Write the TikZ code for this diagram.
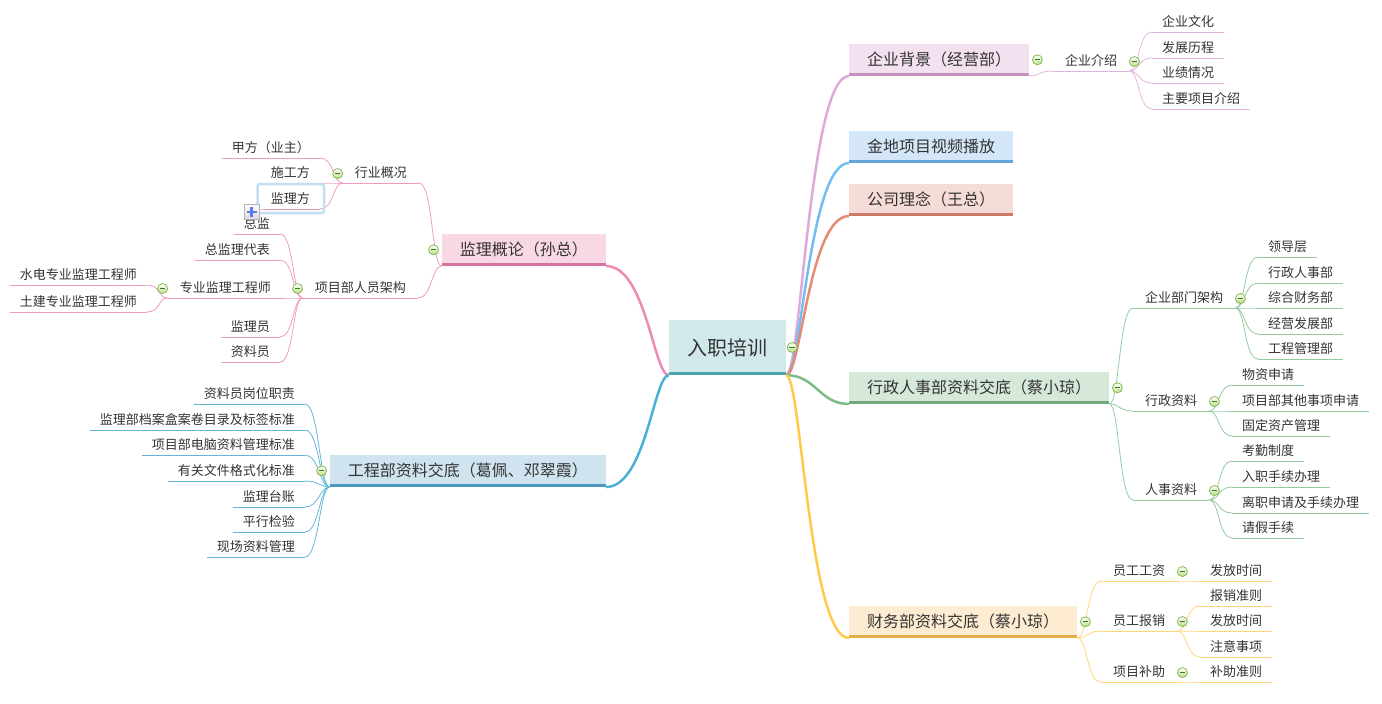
\documentclass[tikz,border=0pt]{standalone}
\usepackage{fontspec}
\setmainfont{Noto Sans CJK SC}
\usepackage{tikz}

\definecolor{ink}{HTML}{333333}
\definecolor{rootfill}{HTML}{D1E9EB}
\definecolor{rootbar}{HTML}{48A6AA}
\definecolor{bgfill}{HTML}{F3E1F0}
\definecolor{bgbar}{HTML}{C392BF}
\definecolor{bgmain}{HTML}{DEAADB}
\definecolor{bgline}{HTML}{E4B4DF}
\definecolor{jdfill}{HTML}{D4E7F8}
\definecolor{jdbar}{HTML}{62A5D9}
\definecolor{jdmain}{HTML}{74BDF0}
\definecolor{lnfill}{HTML}{F6DCD6}
\definecolor{lnbar}{HTML}{CB7B68}
\definecolor{lnmain}{HTML}{E48C73}
\definecolor{xzfill}{HTML}{D5E8D9}
\definecolor{xzbar}{HTML}{6FA97C}
\definecolor{xzmain}{HTML}{7DBB8A}
\definecolor{xzline}{HTML}{94CAA1}
\definecolor{cwfill}{HTML}{FDECD1}
\definecolor{cwbar}{HTML}{E2AE45}
\definecolor{cwmain}{HTML}{FFC94A}
\definecolor{cwline}{HTML}{FFD67A}
\definecolor{jlfill}{HTML}{F8D8E5}
\definecolor{jlbar}{HTML}{D4739D}
\definecolor{jlmain}{HTML}{EE8AB3}
\definecolor{jlline}{HTML}{F19BBF}
\definecolor{gcfill}{HTML}{D0E4F0}
\definecolor{gcbar}{HTML}{4D99BE}
\definecolor{gcmain}{HTML}{4AB0D6}
\definecolor{gcline}{HTML}{63B7D9}
\definecolor{foldedge}{HTML}{7CB342}
\definecolor{foldfill}{HTML}{B9DE8C}
\definecolor{foldmark}{HTML}{3A7A20}
\definecolor{selblue}{HTML}{C5DCF5}
\definecolor{plusblue}{HTML}{5B7BEA}

\newcommand\rootfont{\fontsize{20pt}{22pt}\selectfont}
\newcommand\topicfont{\fontsize{16pt}{18pt}\selectfont}
\newcommand\leaffont{\fontsize{13pt}{15pt}\selectfont}

\tikzset{
  root/.style={fill=rootfill, minimum width=117pt, minimum height=55pt, inner sep=0pt, font=\rootfont, text=ink},
  topic/.style={fill=#1, minimum width=163pt, minimum height=32pt, inner xsep=18pt, inner ysep=0pt, font=\topicfont, text=ink},
  sub/.style={inner xsep=12pt, inner ysep=3pt, text height=10pt, text depth=2.5pt, font=\leaffont, text=ink,
    append after command={(\tikzlastnode.south west) edge[draw=#1, line width=0.8pt] (\tikzlastnode.south east)}},
  leaf/.style={sub=#1, inner xsep=10pt},
  fold/.style={circle, draw=foldedge, line width=0.7pt, inner sep=0pt, minimum size=10pt, top color=white, bottom color=foldfill,
    path picture={\draw[foldmark, line width=1.1pt] ([xshift=-2.8pt]path picture bounding box.center) -- ([xshift=2.8pt]path picture bounding box.center);}},
  plusbox/.style={draw=gray!60, top color=white, bottom color=gray!30, minimum size=15pt, inner sep=0pt,
    path picture={\draw[plusblue, line width=2.5pt] ([xshift=-5pt]path picture bounding box.center) -- ([xshift=5pt]path picture bounding box.center)
      ([yshift=-5pt]path picture bounding box.center) -- ([yshift=5pt]path picture bounding box.center);}},
  rlink/.style={to path={.. controls +(10,0) and +(-14,0) .. (\tikztotarget)}},
  llink/.style={to path={.. controls +(-10,0) and +(14,0) .. (\tikztotarget)}},
  thin/.style={draw=#1, line width=0.8pt},
  main/.style={draw=#1, line width=2.5pt},
}

\begin{document}
\begin{tikzpicture}[x=1pt,y=-1pt]
        \useasboundingbox (0,0) rectangle (1382,704);

        % Root and main topics
        \node[root] (root) at (727.5,347.5) {入职培训};
        \node[topic=bgfill, anchor=south west] (bg) at (849,76) {企业背景（经营部）};
        \node[topic=jdfill, anchor=south west] (jd) at (849,163) {金地项目视频播放};
        \node[topic=lnfill, text width=128pt, align=left, anchor=south west] (ln) at (849,216) {公司理念（王总）};
        \node[topic=xzfill, anchor=south west] (xz) at (849,404) {行政人事部资料交底（蔡小琼）};
        \node[topic=cwfill, anchor=south west] (cw) at (849,638) {财务部资料交底（蔡小琼）};
        \node[topic=jlfill, text width=128pt, align=left, anchor=south east] (jl) at (606,266) {监理概论（孙总）};
        \node[topic=gcfill, anchor=south east] (gc) at (606,487) {工程部资料交底（葛佩、邓翠霞）};

        \draw[main=bgmain] (root.south east) .. controls +(15,0) and +(-40,0) .. (bg.south west);
        \draw[main=jdmain] (root.south east) .. controls +(15,0) and +(-40,0) .. (jd.south west);
        \draw[main=lnmain] (root.south east) .. controls +(15,0) and +(-40,0) .. (ln.south west);
        \draw[main=xzmain] (root.south east) .. controls +(30,0) and +(-30,0) .. (xz.south west);
        \draw[main=cwmain] (root.south east) .. controls +(15,0) and +(-40,0) .. (cw.south west);
        \draw[main=jlmain] (root.south west) .. controls +(-15,0) and +(40,0) .. (jl.south east);
        \draw[main=gcmain] (root.south west) .. controls +(-15,0) and +(40,0) .. (gc.south east);

        % 企业背景
        \node[sub=bgline, anchor=south west] (qyjs) at (1053,71) {企业介绍};
        \node[leaf=bgline, anchor=south west] (qywh) at (1152,32) {企业文化};
        \node[leaf=bgline, anchor=south west] (fzlc) at (1152,58) {发展历程};
        \node[leaf=bgline, anchor=south west] (yjqk) at (1152,83) {业绩情况};
        \node[leaf=bgline, anchor=south west] (zyxm) at (1152,109) {主要项目介绍};
        \draw[thin=bgline] (bg.south east) to[rlink] (qyjs.south west);
        \foreach \n in {qywh,fzlc,yjqk,zyxm}
            \draw[thin=bgline] (qyjs.south east) to[rlink] (\n.south west);

        % 行政人事部
        \node[sub=xzline, anchor=south west] (bmjg) at (1133,308) {企业部门架构};
        \node[sub=xzline, anchor=south west] (xzzl) at (1133,411) {行政资料};
        \node[sub=xzline, anchor=south west] (rszl) at (1133,500) {人事资料};
        \node[leaf=xzline, anchor=south west] (ldc) at (1258,257) {领导层};
        \node[leaf=xzline, anchor=south west] (xzrs) at (1258,283) {行政人事部};
        \node[leaf=xzline, anchor=south west] (zhcw) at (1258,308) {综合财务部};
        \node[leaf=xzline, anchor=south west] (jyfz) at (1258,334) {经营发展部};
        \node[leaf=xzline, anchor=south west] (gcgl) at (1258,359) {工程管理部};
        \node[leaf=xzline, anchor=south west] (wzsq) at (1232,385) {物资申请};
        \node[leaf=xzline, anchor=south west] (qtsq) at (1232,411) {项目部其他事项申请};
        \node[leaf=xzline, anchor=south west] (gdzc) at (1232,436) {固定资产管理};
        \node[leaf=xzline, anchor=south west] (kqzd) at (1232,461) {考勤制度};
        \node[leaf=xzline, anchor=south west] (rzsx) at (1232,487) {入职手续办理};
        \node[leaf=xzline, anchor=south west] (lzsq) at (1232,513) {离职申请及手续办理};
        \node[leaf=xzline, anchor=south west] (qjsx) at (1232,538) {请假手续};
        \foreach \n in {bmjg,xzzl,rszl}
            \draw[thin=xzline] (xz.south east) to[rlink] (\n.south west);
        \foreach \n in {ldc,xzrs,zhcw,jyfz,gcgl}
            \draw[thin=xzline] (bmjg.south east) to[rlink] (\n.south west);
        \foreach \n in {wzsq,qtsq,gdzc}
            \draw[thin=xzline] (xzzl.south east) to[rlink] (\n.south west);
        \foreach \n in {kqzd,rzsx,lzsq,qjsx}
            \draw[thin=xzline] (rszl.south east) to[rlink] (\n.south west);

        % 财务部
        \node[sub=cwline, anchor=south west] (yggz) at (1101,581) {员工工资};
        \node[sub=cwline, anchor=south west] (ygbx) at (1101,631) {员工报销};
        \node[sub=cwline, anchor=south west] (xmbz) at (1101,682) {项目补助};
        \node[leaf=cwline, anchor=south west] (ffsja) at (1200,581) {发放时间};
        \node[leaf=cwline, anchor=south west] (bxzz) at (1200,606) {报销准则};
        \node[leaf=cwline, anchor=south west] (ffsjb) at (1200,631) {发放时间};
        \node[leaf=cwline, anchor=south west] (zysx) at (1200,657) {注意事项};
        \node[leaf=cwline, anchor=south west] (bzzz) at (1200,682) {补助准则};
        \foreach \n in {yggz,ygbx,xmbz}
            \draw[thin=cwline] (cw.south east) to[rlink] (\n.south west);
        \draw[thin=cwline] (yggz.south east) to[rlink] (ffsja.south west);
        \foreach \n in {bxzz,ffsjb,zysx}
            \draw[thin=cwline] (ygbx.south east) to[rlink] (\n.south west);
        \draw[thin=cwline] (xmbz.south east) to[rlink] (bzzz.south west);

        % 监理概论
        \node[sub=jlline, anchor=south east] (hygk) at (419,183) {行业概况};
        \node[sub=jlline, anchor=south east] (xmry) at (418,298) {项目部人员架构};
        \node[leaf=jlline, anchor=south east] (jf) at (320,158) {甲方（业主）};
        \node[leaf=jlline, anchor=south east] (sgf) at (320,183) {施工方};
        \node[leaf=jlline, anchor=south east] (jlf) at (320,209) {监理方};
        \node[leaf=jlline, anchor=south east] (zj) at (280,234) {总监};
        \node[leaf=jlline, anchor=south east] (zjdb) at (280,260) {总监理代表};
        \node[sub=jlline, anchor=south east] (zyjl) at (283,298) {专业监理工程师};
        \node[leaf=jlline, anchor=south east] (jly) at (280,337) {监理员};
        \node[leaf=jlline, anchor=south east] (zly) at (280,362) {资料员};
        \node[leaf=jlline, anchor=south east] (sdzy) at (147,285) {水电专业监理工程师};
        \node[leaf=jlline, anchor=south east] (tjzy) at (147,312) {土建专业监理工程师};
        \foreach \n in {hygk,xmry}
            \draw[thin=jlline] (jl.south west) to[llink] (\n.south east);
        \foreach \n in {jf,sgf,jlf}
            \draw[thin=jlline] (hygk.south west) to[llink] (\n.south east);
        \foreach \n in {zj,zjdb,zyjl,jly,zly}
            \draw[thin=jlline] (xmry.south west) to[llink] (\n.south east);
        \foreach \n in {sdzy,tjzy}
            \draw[thin=jlline] (zyjl.south west) to[llink] (\n.south east);
        \draw[selblue, line width=2.5pt, rounded corners=2pt] ([xshift=-3pt,yshift=6pt]jlf.north west) rectangle ([xshift=4pt,yshift=-4pt]jlf.south east);
        \node[plusbox] (plus) at (251.5,212) {};

        % 工程部
        \node[leaf=gcline, anchor=south east] (gwzz) at (305,404) {资料员岗位职责};
        \node[leaf=gcline, anchor=south east] (dabz) at (305,430) {监理部档案盒案卷目录及标签标准};
        \node[leaf=gcline, anchor=south east] (dnzl) at (305,455) {项目部电脑资料管理标准};
        \node[leaf=gcline, anchor=south east] (gshb) at (305,481) {有关文件格式化标准};
        \node[leaf=gcline, anchor=south east] (jltz) at (305,507) {监理台账};
        \node[leaf=gcline, anchor=south east] (pxjy) at (305,532) {平行检验};
        \node[leaf=gcline, anchor=south east] (xczl) at (305,557) {现场资料管理};
        \foreach \n in {gwzz,dabz,dnzl,gshb,jltz,pxjy,xczl}
            \draw[thin=gcline] (gc.south west) to[llink] (\n.south east);

        % Bars and fold marks
        \draw[rootbar, line width=3.5pt] ([yshift=1.5pt]root.south west) -- ([yshift=1.5pt]root.south east);
        \foreach \n/\c in {bg/bgbar,jd/jdbar,ln/lnbar,xz/xzbar,cw/cwbar,jl/jlbar,gc/gcbar}
            \draw[\c, line width=3pt] ([yshift=1.5pt]\n.south west) -- ([yshift=1.5pt]\n.south east);
        \node[fold] (rootf) at ([xshift=6pt]root.east) {};
        \foreach \n in {bg,xz,cw}
            \node[fold] (\n f) at ([xshift=8pt]\n.east) {};
        \foreach \n in {jl,gc}
            \node[fold] (\n f) at ([xshift=-8pt]\n.west) {};
        \foreach \n in {qyjs,bmjg,xzzl,rszl,yggz,ygbx,xmbz}
            \node[fold] (\n f) at ([xshift=5pt]\n.east) {};
        \foreach \n in {hygk,xmry,zyjl}
            \node[fold] (\n f) at ([xshift=-5pt]\n.west) {};
\end{tikzpicture}
\end{document}
